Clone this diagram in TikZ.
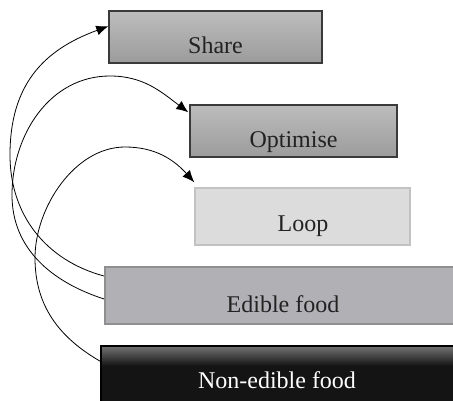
\documentclass[tikz,border=0pt]{standalone}
\usepackage{fontspec}
\setmainfont{Liberation Serif}
\usepackage{xcolor}
\usetikzlibrary{arrows.meta}

\definecolor{boxline}{HTML}{3A3A3A}
\definecolor{ediblefill}{HTML}{B1B1B5}
\definecolor{edibleline}{HTML}{8F8F8F}
\definecolor{loopfill}{HTML}{DCDCDC}
\definecolor{loopline}{HTML}{C2C2C2}
\definecolor{labeltext}{HTML}{222222}
\pgfdeclareverticalshading{darkfade}{100bp}{color(0bp)=(black!92); color(58bp)=(black!92); color(75bp)=(black!55); color(100bp)=(black!55)}

\tikzset{
  stage/.style={draw=boxline, line width=1.1pt, inner sep=0pt, top color=black!26, bottom color=black!39},
  stagetext/.style={anchor=base, font=\fontsize{18}{20}\selectfont, text=labeltext, inner sep=0pt},
  link/.style={line width=0.6pt, -{Latex[length=9pt,width=7.5pt]}},
}

\begin{document}
\begin{tikzpicture}[x=0.75pt, y=0.75pt]
\useasboundingbox (0,0) rectangle (453,400);
%%%%% Boxes %%%%%
\node[stage, minimum width=159.75pt, minimum height=39pt] (share) at (215.5,363) {};
\node[stage, minimum width=155.25pt, minimum height=39pt] (optimise) at (293.5,269) {};
\node[draw=loopline, fill=loopfill, line width=1.1pt, inner sep=0pt, minimum width=161.25pt, minimum height=42.75pt] (loop) at (302.5,183.5) {};
\node[draw=edibleline, fill=ediblefill, line width=1.5pt, inner sep=0pt, minimum width=263.25pt, minimum height=42.75pt] (edible) at (280.5,104.5) {};
\node[draw=black, shading=darkfade, line width=1pt, inner sep=0pt, minimum width=266.25pt, minimum height=43.5pt] (nonedible) at (278.5,25) {};
%%%%% Labels %%%%%
\node[stagetext] (shareText) at (215.5,346) {Share};
\node[stagetext] (optimiseText) at (293.5,252) {Optimise};
\node[stagetext] (loopText) at (303,168) {Loop};
\node[stagetext] (edibleText) at (283,88) {Edible food};
\node[stagetext, text=white] (nonedibleText) at (277,12) {Non-edible food};
%%%%% Loops back %%%%%
\draw[link] ([yshift=-7.5pt]edible.north west) to[out=165,in=-90] (10,245) to[out=90,in=-160,looseness=1.1] ([yshift=-12pt]share.north west);
\draw[link] ([yshift=-24.75pt]edible.north west) to[out=162,in=-90] (12,205) to[out=90,in=180] (110,324) to[out=0,in=143] ([xshift=-0.75pt,yshift=-6pt]optimise.north west);
\draw[link] ([yshift=-12pt]nonedible.north west) to[out=150,in=-90] (35,142) to[out=90,in=180,looseness=0.9] (125,253) to[out=0,in=132] ([yshift=3.75pt]loop.north west);
\end{tikzpicture}
\end{document}
